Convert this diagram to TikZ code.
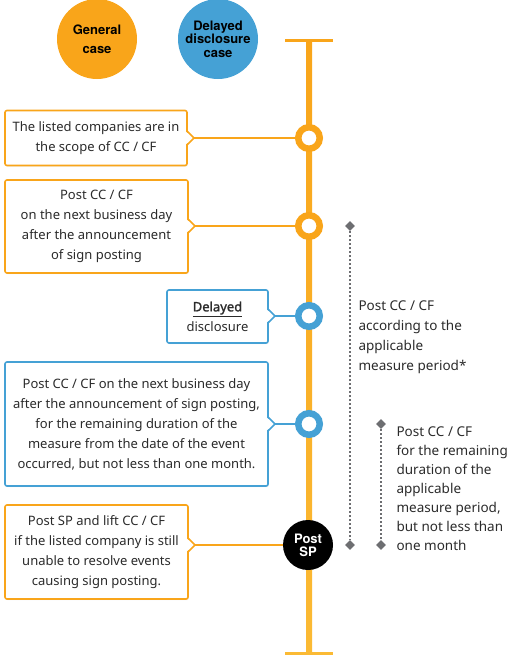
\documentclass[tikz,border=0pt]{standalone}
\usepackage{fontspec}
\setmainfont{Noto Sans}
\newfontfamily\heros{TeX Gyre Heros}
\newfontfamily\boldnoto{Noto Sans}[FakeBold=1.6]
\usetikzlibrary{shapes.geometric,shadows}
\definecolor{caseorange}{HTML}{F9A51A}
\definecolor{caseblue}{HTML}{45A1D5}
\definecolor{linetop}{HTML}{F9A51A}
\definecolor{linebot}{HTML}{FBBA34}
\definecolor{notegray}{HTML}{6D6E71}
\definecolor{textgray}{HTML}{2B2B2B}
\tikzset{
  casedisc/.style={circle, minimum size=80pt, inner sep=0pt, align=center, font=\heros\bfseries\fontsize{13}{13.5}\selectfont, text=black},
  infobox/.style={draw=#1, line width=1.6pt, fill=white, rounded corners=2pt, align=center, inner sep=0pt, outer sep=0pt, font=\fontsize{13}{20}\selectfont, text=textgray, drop shadow={opacity=0.12, shadow xshift=0.8pt, shadow yshift=-1.2pt}},
  ring/.style={circle, draw=#1, line width=6.5pt, fill=white, minimum size=21.5pt, inner sep=0pt, drop shadow={opacity=0.15, shadow xshift=0pt, shadow yshift=-1.5pt}},
  diam/.style={diamond, fill=notegray, inner sep=0pt, minimum size=10pt},
  period/.style={notegray, line width=1.6pt, dash pattern=on 2.2pt off 1.8pt},
  note/.style={anchor=west, align=left, text=textgray}
}
% pointer on the right side of a box, then the line to its ring
\newcommand{\boxnotch}[3]{%
  \coordinate (nb) at (#1.east |- #2);
  \fill[white] ([shift={(-2,-7)}]nb) -- ([shift={(7,0)}]nb) -- ([shift={(-2,7)}]nb) -- cycle;
  \draw[#3, line width=1.6pt] ([shift={(0,-7)}]nb) -- ([shift={(7,0)}]nb) -- ([shift={(0,7)}]nb);
  \draw[#3, line width=1.8pt] ([shift={(7,0)}]nb) -- (#2.west);
}
\begin{document}
\begin{tikzpicture}[x=1pt, y=-1pt]
\useasboundingbox (0,0) rectangle (511,656);
% legend
\node[casedisc, fill=caseorange] (general) at (97,39) {General\\[5pt]case};
\node[casedisc, fill=caseblue] (delayed) at (218,39) {Delayed\\disclosure\\case};
% time line
\shade[top color=linetop, bottom color=linebot] (306,40) rectangle (312,654);
\fill[linetop] (285,38.5) rectangle (333,41.5);
\fill[linebot] (285,652) rectangle (333,655);
\node[ring=caseorange] (r1) at (309,138) {};
\node[ring=caseorange] (r2) at (309,226) {};
\node[ring=caseblue] (r3) at (309,316) {};
\node[ring=caseblue] (r4) at (309,424) {};
\node[circle, fill=black, minimum size=50pt, inner sep=0pt, align=center, text=white, font=\heros\bfseries\fontsize{13}{13}\selectfont] (sp) at (308,545) {Post\\SP};
% boxes
\node[infobox=caseorange, minimum width=182pt, minimum height=55pt, anchor=east] (b1) at (187,138) {The listed companies are in\\the scope of CC / CF};
\node[infobox=caseorange, minimum width=183pt, minimum height=93pt, anchor=east] (b2) at (188,226.5) {Post CC / CF\\on the next business day\\after the announcement\\of sign posting};
\node[infobox=caseblue, minimum width=101pt, minimum height=53pt, anchor=east] (b3) at (268,316.5) {\underline{\boldnoto Delayed}\\disclosure};
\node[infobox=caseblue, minimum width=263pt, minimum height=124pt, anchor=east] (b4) at (268,424) {Post CC / CF on the next business day\\after the announcement of sign posting,\\for the remaining duration of the\\measure from the date of the event\\occurred, but not less than one month.};
\node[infobox=caseorange, minimum width=183pt, minimum height=94pt, anchor=east] (b5) at (188,552) {Post SP and lift CC / CF\\if the listed company is still\\unable to resolve events\\causing sign posting.};
\boxnotch{b1}{r1}{caseorange}
\boxnotch{b2}{r2}{caseorange}
\boxnotch{b3}{r3}{caseblue}
\boxnotch{b4}{r4}{caseblue}
\boxnotch{b5}{sp}{caseorange}
% periods
\node[diam] (d1a) at (350,226) {};
\node[diam] (d1b) at (350,545) {};
\node[diam] (d2a) at (381,424) {};
\node[diam] (d2b) at (381,545) {};
\draw[period] (d1a) -- (d1b);
\draw[period] (d2a) -- (d2b);
\node[note, font=\fontsize{13.5}{20}\selectfont] (n1) at (355,337) {Post CC / CF\\according to the\\applicable\\measure period*};
\node[note, font=\fontsize{13.5}{19}\selectfont] (n2) at (393,489) {Post CC / CF\\for the remaining\\duration of the\\applicable\\measure period,\\but not less than\\one month};
\end{tikzpicture}
\end{document}
